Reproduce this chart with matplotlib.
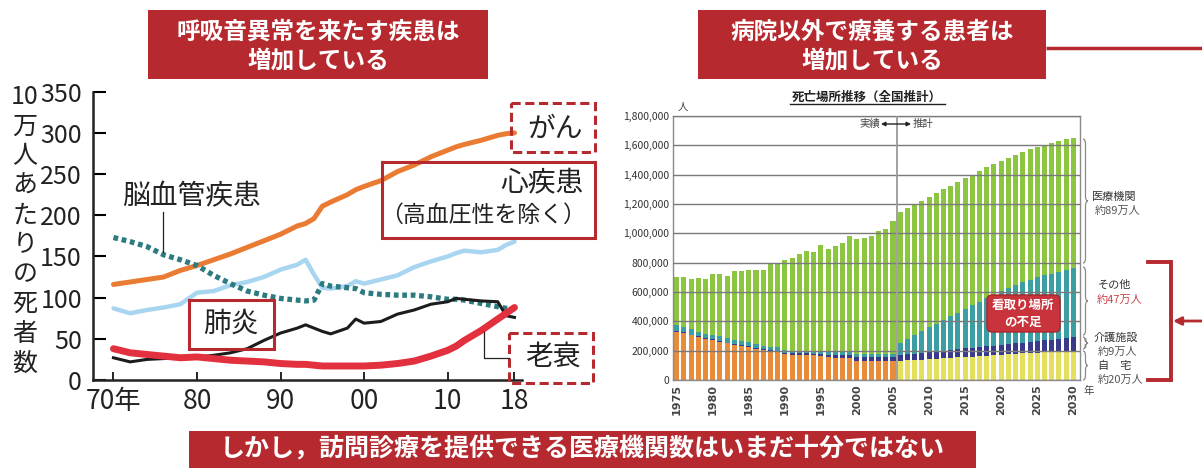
import matplotlib.pyplot as plt
from matplotlib.patches import Rectangle, FancyBboxPatch, PathPatch
from matplotlib.path import Path

plt.rcParams['font.family'] = ['Noto Sans CJK JP', 'DejaVu Sans']
NARROW = ['Liberation Sans Narrow', 'Noto Sans CJK JP', 'DejaVu Sans']

# ---- left chart: deaths per 100k by cause ----
years = [1970, 1972, 1974, 1976, 1978, 1980, 1982, 1984, 1986, 1988, 1990, 1992, 1993, 1994, 1995,
         1996, 1998, 1999, 2000, 2002, 2004, 2006, 2008, 2010, 2011, 2012, 2014, 2016, 2017, 2018]
cancer = [116, 119, 122, 125, 133, 139, 146, 153, 161, 169, 177, 187, 190, 196, 211,
          216, 225, 231, 235, 242, 253, 261, 271, 279, 283, 286, 291, 297, 299, 300]
heart = [87, 81, 85, 88, 92, 106, 108, 115, 119, 125, 134, 140, 146, 128, 112,
         111, 114, 120, 117, 122, 127, 137, 144, 150, 154, 157, 155, 158, 164, 168]
cerebro = [173, 168, 162, 152, 146, 139, 127, 117, 108, 103, 99, 97, 96, 97, 117,
           114, 112, 111, 106, 104, 103, 103, 101, 98, 98, 97, 93, 89, 87, 86]
pneumonia = [27, 22, 25, 26, 27, 28, 30, 33, 38, 48, 57, 63, 67, 63, 59,
             56, 63, 74, 69, 71, 80, 85, 92, 95, 99, 98, 96, 95, 78, 76]
senility = [38, 33, 31, 29, 27, 28, 26, 24, 23, 22, 20, 19, 19, 18, 17,
            17, 17, 17, 17, 18, 20, 23, 29, 36, 41, 48, 60, 74, 81, 88]
left_xticks = [1970, 1980, 1990, 2000, 2010, 2018]
left_xlabels = ['70年', '80', '90', '00', '10', '18']
left_yticks = [0, 50, 100, 150, 200, 250, 300, 350]
ylabel_chars = ['10', '万', '人', 'あ', 'た', 'り', 'の', '死', '者', '数']

# ---- right chart: place of death (thousands) ----
bar_years = list(range(1975, 2031))
home = [328, 320, 305, 292, 280, 273, 262, 250, 238, 232, 225, 212, 205, 198, 193,
        175, 173, 172, 172, 170, 165, 155, 152, 150, 148, 132, 130, 130, 130, 128, 128,
        130, 133, 136, 139, 142, 145, 148, 151, 154, 157, 160, 163, 166, 169, 172,
        175, 178, 181, 184, 187, 190, 193, 196, 198, 200]
care = [5, 5, 5, 5, 5, 5, 5, 5, 5, 5, 5, 5, 5, 5, 5,
        8, 8, 9, 9, 10, 10, 18, 18, 19, 20, 22, 24, 25, 26, 28, 30,
        40, 42, 44, 46, 48, 50, 52, 54, 56, 58, 60, 62, 64, 66, 68,
        70, 72, 74, 76, 78, 80, 82, 84, 87, 90]
other = [40, 38, 35, 33, 32, 30, 30, 28, 28, 28, 27, 26, 25, 25, 24,
         20, 20, 20, 20, 20, 25, 20, 20, 20, 20, 20, 20, 20, 20, 20, 20,
         85, 105, 125, 147, 170, 187, 210, 230, 250, 270, 290, 310, 330, 345, 365,
         380, 395, 410, 422, 435, 445, 450, 458, 465, 472]
hospital = [329, 340, 345, 366, 373, 415, 423, 429, 469, 475, 495, 508, 516, 565, 567,
            617, 629, 656, 678, 676, 722, 703, 723, 747, 794, 788, 796, 807, 839, 853, 906,
            890, 890, 890, 890, 890, 890, 890, 890, 890, 890, 890, 890, 890, 890, 890,
            890, 890, 890, 890, 890, 890, 890, 890, 890, 890]
last_actual = 2005

W, H = 1202, 468
RED = '#B5292F'
fig = plt.figure(figsize=(W / 100, H / 100), dpi=100)

# left axes
ax1 = fig.add_axes([93 / W, 1 - 380 / H, (522 - 93) / W, (380 - 91.7) / H])
ax1.plot(years, cancer, color='#EA7B32', lw=3.6, solid_capstyle='round')
ax1.plot(years, heart, color='#A8D5F0', lw=3.2, solid_capstyle='round')
ax1.plot(years, cerebro, color='#2B7B80', lw=3.8, linestyle=(0, (0.9, 0.7)))
ax1.plot(years, pneumonia, color='#1c1c1c', lw=2.2)
ax1.plot(years, senility, color='#E2303E', lw=5, solid_capstyle='round')
ax1.set_xlim(1967.55, 2018.9)
ax1.set_ylim(0, 350)
for s in ['top', 'right']:
    ax1.spines[s].set_visible(False)
for s in ['left', 'bottom']:
    ax1.spines[s].set_linewidth(1.8)
    ax1.spines[s].set_color('#222222')
ax1.set_xticks(left_xticks)
ax1.set_xticklabels(left_xlabels, family=NARROW, fontsize=19, color='#222222')
ax1.set_yticks(left_yticks)
ax1.set_yticklabels([str(v) for v in left_yticks], family=NARROW, fontsize=18, color='#222222')
ax1.tick_params(axis='y', direction='in', length=9, width=1.5, pad=8)
ax1.tick_params(axis='x', direction='in', length=6, width=1.2, pad=6)
ax1.patch.set_alpha(0)

# right axes
ax2 = fig.add_axes([673 / W, 1 - 380 / H, (1080 - 673) / W, (380 - 116) / H])
home_colors = ['#E98C3A' if y <= last_actual else '#E4E05E' for y in bar_years]
bottom = [0] * len(bar_years)
layers = [(home, home_colors), (care, '#393A8C'), (other, '#3A9EA3'), (hospital, '#8CC540')]
for vals, col in layers:
    v = [x * 1000 for x in vals]
    ax2.bar(bar_years, v, width=0.7, bottom=bottom, color=col, edgecolor='none', zorder=2)
    bottom = [b + x for b, x in zip(bottom, v)]
ax2.set_xlim(1974.49, 2030.93)
ax2.set_ylim(0, 1800000)
ax2.set_yticks(range(0, 1800001, 200000))
ax2.set_yticklabels([f'{v:,}' for v in range(0, 1800001, 200000)], fontsize=7.5, color='#333333',
                    family=NARROW)
ax2.set_xticks(range(1975, 2031, 5))
ax2.set_xticklabels([str(y) for y in range(1975, 2031, 5)], rotation=90, fontsize=8,
                    fontweight='bold', color='#444444', family=['DejaVu Sans'])
ax2.tick_params(length=0, pad=3)
ax2.grid(axis='y', color='#7a7a7a', lw=1.0, zorder=3)
ax2.set_axisbelow(False)
for s in ax2.spines.values():
    s.set_color('#8a8a8a')
    s.set_linewidth(1.0)
ax2.axvline(last_actual + 0.5, color='#9a9a9a', lw=1.3, zorder=4)

# overlay in pixel coordinates
ov = fig.add_axes([0, 0, 1, 1], zorder=10)
ov.set_xlim(0, W)
ov.set_ylim(H, 0)
ov.axis('off')
ov.patch.set_alpha(0)

# title boxes
ov.add_patch(Rectangle((148, 10), 340, 69, fc=RED, ec='none'))
ov.text(318, 32, '呼吸音異常を来たす疾患は', color='white', fontsize=17, fontweight='bold',
        ha='center', va='center')
ov.text(318, 60, '増加している', color='white', fontsize=17, fontweight='bold',
        ha='center', va='center')
ov.add_patch(Rectangle((698, 10), 348, 69, fc=RED, ec='none'))
ov.text(872, 32, '病院以外で療養する患者は', color='white', fontsize=17, fontweight='bold',
        ha='center', va='center')
ov.text(872, 60, '増加している', color='white', fontsize=17, fontweight='bold',
        ha='center', va='center')
ov.plot([1046, 1202], [48, 48], color=RED, lw=2.5, solid_capstyle='butt')

# bottom banner
ov.add_patch(Rectangle((189, 431), 787, 40, fc=RED, ec='none'))
ov.text(582, 449, 'しかし，訪問診療を提供できる医療機関数はいまだ十分ではない', color='white',
        fontsize=18, fontweight='bold', ha='center', va='center')

# left y label (vertical)
for i, ch in enumerate(ylabel_chars):
    ov.text(25, 97 + i * 29.6, ch, fontsize=18, ha='center', va='center', color='#222222',
            family=NARROW if ch == '10' else None)

# left annotations
ov.add_patch(Rectangle((511, 103), 84, 49, fc='none', ec=RED, lw=2.2, ls=(0, (3, 1.5))))
ov.text(555, 129, 'がん', fontsize=20, ha='center', va='center', color='#222222')
ov.add_patch(Rectangle((382, 162), 213, 76, fc='none', ec=RED, lw=2.2))
ov.text(584, 183, '心疾患', fontsize=20, ha='right', va='center', color='#222222')
ov.text(586, 215, '（高血圧性を除く）', fontsize=16.5, ha='right', va='center', color='#222222')
ov.text(191, 196, '脳血管疾患', fontsize=20, ha='center', va='center', color='#222222')
ov.plot([163, 163], [212, 252], color='#222222', lw=0.9)
ov.add_patch(Rectangle((189, 300), 85, 49, fc='none', ec=RED, lw=2.2))
ov.text(231, 324, '肺炎', fontsize=20, ha='center', va='center', color='#222222')
ov.add_patch(Rectangle((509, 333), 84, 50, fc='none', ec=RED, lw=2.2, ls=(0, (3, 1.5))))
ov.text(553, 357, '老衰', fontsize=20, ha='center', va='center', color='#222222')
ov.plot([484, 484, 509], [332, 358, 358], color='#222222', lw=0.9)

# right chart texts
t = ov.text(867, 97, '死亡場所推移（全国推計）', fontsize=9, fontweight='bold', ha='center',
            va='center', color='#222222')
ov.plot([790, 945], [104, 104], color='#222222', lw=1.0)
ov.text(683, 107, '人', fontsize=7.5, ha='center', va='center', color='#444444')
ov.text(1089, 391, '年', fontsize=7.5, ha='center', va='center', color='#444444')
ov.text(880, 124, '実績', fontsize=7.5, ha='right', va='center', color='#444444')
ov.text(913, 124, '推計', fontsize=7.5, ha='left', va='center', color='#444444')
ov.annotate('', xy=(911, 124), xytext=(881, 124),
            arrowprops=dict(arrowstyle='<|-|>', color='#222222', lw=1.0,
                            mutation_scale=6, shrinkA=0, shrinkB=0))


def brace(x, y0, y1, w=5):
    ym = (y0 + y1) / 2
    h = w / 2
    verts = [(x, y0), (x + h, y0), (x + h, y0 + w), (x + h, ym - w), (x + h, ym), (x + w, ym),
             (x + h, ym), (x + h, ym + w), (x + h, y1 - w), (x + h, y1), (x, y1)]
    codes = [Path.MOVETO, Path.CURVE3, Path.CURVE3, Path.LINETO, Path.CURVE3, Path.CURVE3,
             Path.CURVE3, Path.CURVE3, Path.LINETO, Path.CURVE3, Path.CURVE3]
    ov.add_patch(PathPatch(Path(verts, codes), fc='none', ec='#8a8a8a', lw=0.9))


brace(1083, 139, 263)
brace(1083, 267, 335)
brace(1083, 337, 349)
brace(1083, 351, 380)

ov.text(1114, 197, '医療機関', fontsize=8, ha='center', va='center', color='#333333')
ov.text(1118, 211, '約89万人', fontsize=8, ha='center', va='center', color='#555555')
ov.text(1115, 285, 'その他', fontsize=8, ha='center', va='center', color='#333333')
ov.text(1120, 300, '約47万人', fontsize=8, ha='center', va='center', color='#C8434B')
ov.text(1116, 338, '介護施設', fontsize=8, ha='center', va='center', color='#333333')
ov.text(1118, 352, '約9万人', fontsize=8, ha='center', va='center', color='#555555')
ov.text(1115, 366, '自　宅', fontsize=8, ha='center', va='center', color='#333333')
ov.text(1121, 380, '約20万人', fontsize=8, ha='center', va='center', color='#555555')

ov.add_patch(FancyBboxPatch((987, 295), 73, 37, boxstyle='round,pad=0,rounding_size=5',
                            fc='#C9343C', ec='#A8262D', lw=1.0))
ov.text(1023, 305, '看取り場所', fontsize=9, fontweight='bold', ha='center', va='center',
        color='white')
ov.text(1023, 322, 'の不足', fontsize=9, fontweight='bold', ha='center', va='center',
        color='white')

# red bracket and arrow on the right
ov.plot([1148, 1171, 1171, 1148], [262, 262, 380, 380], color=RED, lw=2.8,
        solid_joinstyle='miter')
ov.annotate('', xy=(1173, 321), xytext=(1202, 321),
            arrowprops=dict(arrowstyle='-|>', color=RED, lw=2.0, mutation_scale=12,
                            shrinkA=0, shrinkB=0))

fig.savefig('out.png', dpi=100)
